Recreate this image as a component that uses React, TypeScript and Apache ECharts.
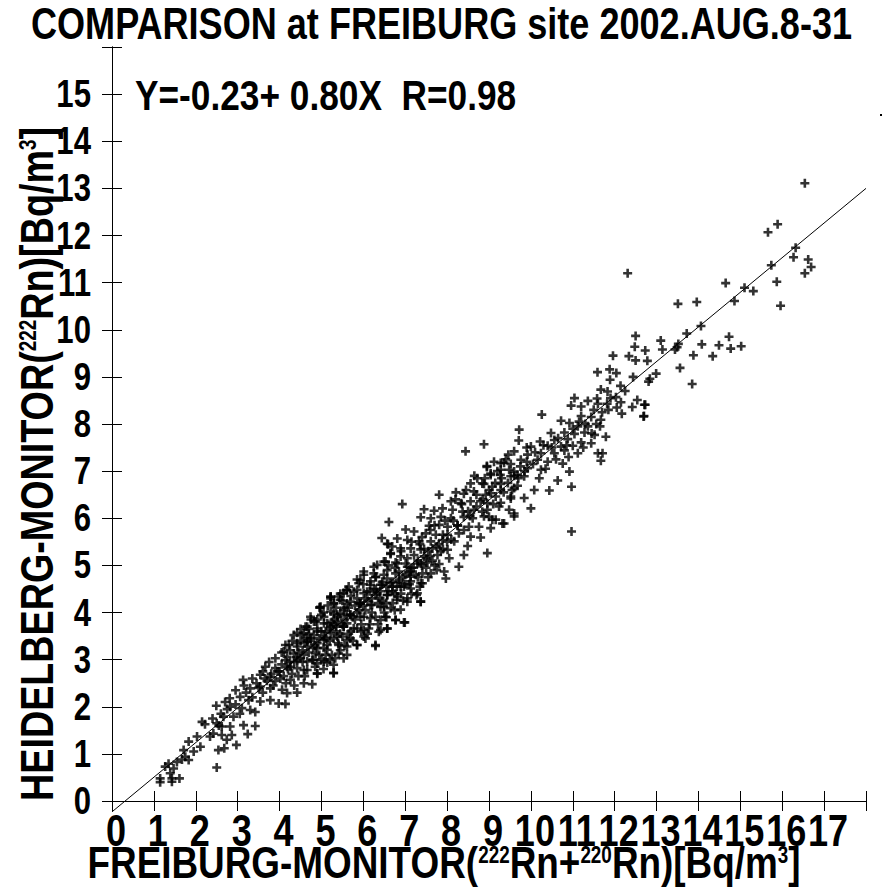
import React, { useEffect, useRef } from "react";
import * as echarts from "echarts";

const titleText = "COMPARISON at FREIBURG site 2002.AUG.8-31";
const equationText = "Y=-0.23+ 0.80X  R=0.98";

const xTicks = { min: 0, max: 18, interval: 1 };
const yTicks = { min: 0, max: 16, interval: 1 };
const xTickLabels = ["0", "1", "2", "3", "4", "5", "6", "7", "8", "9", "10", "11", "12", "13", "14", "15", "16", "17"];
const yTickLabels = ["0", "1", "2", "3", "4", "5", "6", "7", "8", "9", "10", "11", "12", "13", "14", "15"];

// regression line as drawn: from x=0 to x=18
const fitLine: [number, number][] = [
  [0, -0.23],
  [18, 13.0],
];

// [FREIBURG, HEIDELBERG] pairs, Bq/m3
const lowRange: [number, number][] = [
  [1.15, 0.48], [1.43, 0.48], [1.61, 0.48], [1.15, 0.4], [1.43, 0.41], [1.39, 0.59], [1.27, 0.73], [1.35, 0.79],
  [1.47, 0.69], [1.55, 0.83], [1.67, 0.88], [1.75, 0.94], [1.83, 0.87], [2.5, 0.71], [1.71, 1.08], [1.95, 1.05],
  [2.11, 1.15], [1.83, 1.26], [2.03, 1.37], [2.34, 1.37], [2.54, 1.08], [2.68, 1.12], [2.42, 1.43], [2.62, 1.4],
  [2.86, 1.4], [3.24, 1.42], [2.74, 1.3], [2.97, 1.19], [2.15, 1.68], [2.22, 1.63], [2.5, 1.65], [2.62, 1.58],
  [2.82, 1.58], [3.14, 1.61], [3.42, 1.59], [2.66, 1.79], [2.9, 1.79], [2.49, 2.02], [2.82, 2.0], [3.1, 1.97],
  [3.3, 1.93], [3.42, 1.89], [2.81, 2.18], [3.06, 2.21], [3.26, 2.14], [3.54, 2.11], [3.78, 2.14], [3.98, 2.07],
  [4.14, 2.06], [3.3, 2.39], [3.54, 2.43], [3.78, 2.39], [4.06, 2.36], [4.18, 2.29], [4.42, 2.3], [3.13, 2.57],
  [3.54, 2.68], [3.78, 2.64], [4.02, 2.6], [4.26, 2.57], [4.58, 2.5], [4.78, 2.48], [3.66, 2.85], [3.9, 2.82],
  [4.18, 2.85], [4.42, 2.82], [4.66, 2.78], [3.9, 3.03], [4.14, 2.99], [4.42, 2.99], [4.66, 2.96], [4.9, 2.92],
  [5.14, 2.94], [5.29, 2.71], [4.9, 2.7], [4.1, 3.17], [4.34, 3.13], [4.58, 3.1], [4.86, 3.13], [5.1, 3.1],
  [5.33, 3.03], [5.61, 3.1], [4.22, 3.31], [4.42, 3.35], [4.66, 3.38], [4.9, 3.35], [5.14, 3.31], [5.41, 3.31],
  [5.61, 3.28], [4.42, 3.57], [4.54, 3.52], [4.9, 3.6], [5.22, 3.56], [5.5, 3.49], [4.66, 3.7], [4.86, 3.81],
  [5.14, 3.77], [5.38, 3.8], [5.61, 3.77], [4.96, 4.1], [5.29, 3.98], [5.53, 4.05], [5.22, 4.33], [5.41, 4.34],
  [5.6, 4.47],
];

const coreRange: [number, number][] = [
  [6.57, 5.46], [6.65, 5.26], [6.89, 5.19], [6.33, 5.01], [6.53, 5.08], [6.81, 5.04], [7.05, 4.97], [7.37, 5.04],
  [6.01, 4.87], [6.25, 4.83], [6.49, 4.8], [6.77, 4.83], [7.13, 4.76], [7.37, 4.62], [5.93, 4.69], [6.17, 4.66],
  [6.41, 4.59], [6.65, 4.62], [6.89, 4.55], [7.13, 4.51], [5.61, 4.48], [5.85, 4.48], [6.09, 4.44], [6.33, 4.41],
  [6.57, 4.37], [6.81, 4.34], [7.05, 4.3], [7.29, 4.41], [7.37, 4.23], [5.22, 4.3], [5.45, 4.27], [5.69, 4.23],
  [5.93, 4.19], [6.17, 4.16], [6.41, 4.12], [6.65, 4.09], [6.89, 4.06], [4.96, 4.11], [5.22, 4.02], [5.45, 3.98],
  [5.69, 3.95], [5.93, 3.91], [6.17, 3.88], [6.41, 3.84], [6.77, 3.84], [6.99, 3.79], [6.57, 3.66], [4.82, 3.81],
  [5.06, 3.77], [5.29, 3.74], [5.53, 3.7], [5.77, 3.66], [6.01, 3.63], [6.37, 3.59], [4.34, 3.52], [4.58, 3.56],
  [4.82, 3.52], [5.06, 3.49], [5.29, 3.45], [5.61, 3.42], [5.85, 3.31], [6.05, 3.45], [6.29, 3.31], [4.14, 3.31],
  [4.42, 3.28], [4.66, 3.28], [4.9, 3.24], [5.14, 3.21], [5.41, 3.13], [5.53, 3.03], [4.18, 3.06], [4.5, 3.03],
  [4.78, 2.99], [5.06, 2.96], [5.29, 2.89], [4.26, 2.85], [4.58, 2.78], [4.9, 2.71], [5.29, 2.72],
];

const denseCore: [number, number][] = [
  [3.5, 2.4], [3.65, 2.6], [3.8, 2.7], [3.9, 2.55], [4.0, 2.75], [4.1, 2.65], [4.2, 2.8], [4.35, 2.95],
  [4.4, 3.05], [4.55, 3.2], [4.6, 3.35], [4.75, 3.4], [4.8, 3.25], [4.95, 3.45], [5.0, 3.6], [5.1, 3.45],
  [5.2, 3.65], [5.25, 3.8], [5.35, 3.7], [5.4, 3.9], [5.5, 3.75], [5.6, 3.95], [5.65, 4.1], [5.75, 3.9],
  [5.85, 4.0], [5.9, 4.2], [6.0, 4.15], [6.05, 4.3], [6.15, 4.45], [6.2, 4.3], [6.3, 4.5], [6.4, 4.45],
  [6.45, 4.25], [6.55, 4.2], [6.6, 4.45], [6.7, 4.65], [6.75, 4.4], [6.8, 4.55], [6.95, 4.75], [7.0, 4.6],
  [7.1, 4.85], [7.2, 4.95], [7.3, 4.75], [7.4, 5.0], [7.5, 5.15], [7.55, 5.3], [7.65, 5.1], [7.8, 5.45],
  [7.9, 5.35], [8.0, 5.5], [4.05, 3.15], [4.25, 3.2], [4.5, 3.4], [4.7, 3.65], [4.9, 3.85], [5.05, 4.0],
  [5.3, 4.2], [5.45, 4.4], [5.65, 4.55], [5.85, 4.7], [4.15, 2.5], [4.35, 2.45], [4.6, 2.65], [4.85, 2.85],
  [5.05, 2.8], [5.2, 3.0], [5.4, 3.35], [5.55, 3.3], [5.75, 3.4], [5.95, 3.6], [6.1, 3.55], [6.35, 3.75],
  [6.55, 3.9], [6.75, 4.05], [6.95, 4.25], [7.15, 4.4], [7.35, 4.55], [7.55, 4.75], [7.75, 4.9],
];

const midRange: [number, number][] = [
  [8.44, 7.42], [9.46, 7.35], [8.95, 7.11], [9.28, 7.17], [9.52, 7.15], [9.04, 6.95], [9.27, 6.92], [9.48, 7.03],
  [9.68, 6.92], [8.72, 6.85], [8.84, 6.74], [8.56, 6.74], [9.08, 6.67], [9.28, 6.6], [9.6, 6.64], [7.81, 6.5],
  [8.21, 6.55], [8.4, 6.52], [8.64, 6.57], [8.92, 6.5], [9.16, 6.46], [9.52, 6.42], [6.93, 6.3], [8.09, 6.36],
  [8.33, 6.32], [8.56, 6.36], [8.8, 6.36], [8.96, 6.32], [9.24, 6.25], [9.48, 6.18], [9.6, 6.04], [7.45, 6.19],
  [7.69, 6.16], [7.89, 6.21], [8.13, 6.18], [8.37, 6.14], [8.64, 6.18], [8.84, 6.14], [7.37, 6.02], [7.61, 6.0],
  [7.85, 6.03], [8.09, 6.0], [8.4, 6.03], [8.61, 6.0], [9.0, 6.03], [9.16, 5.97], [9.36, 5.89], [6.61, 5.92],
  [7.57, 5.84], [7.81, 5.86], [8.01, 5.82], [8.25, 5.84], [8.52, 5.82], [8.76, 5.82], [7.01, 5.76], [7.21, 5.72],
  [7.49, 5.68], [7.73, 5.65], [8.01, 5.65], [8.28, 5.68], [8.56, 5.61], [8.8, 5.59], [6.44, 5.58], [6.59, 5.45],
  [6.81, 5.57], [7.05, 5.54], [7.33, 5.51], [7.61, 5.51], [7.89, 5.54], [8.17, 5.51], [8.49, 5.41], [6.69, 5.4],
  [6.89, 5.36], [7.13, 5.36], [7.37, 5.34], [7.65, 5.36], [8.01, 5.33], [8.4, 5.22], [8.96, 5.26], [6.65, 5.24],
  [7.21, 5.22], [7.45, 5.19], [7.77, 5.22], [8.05, 5.15], [6.49, 5.08], [6.77, 5.06], [7.01, 5.04], [7.29, 5.04],
  [7.53, 5.06], [7.81, 5.03], [8.28, 4.97], [6.25, 4.97], [6.57, 4.9], [6.85, 4.87], [7.13, 4.87], [7.41, 4.83],
  [7.61, 4.83], [7.93, 4.87], [7.97, 4.72], [6.01, 4.8], [6.29, 4.76], [6.57, 4.72], [6.85, 4.7], [7.13, 4.66],
  [7.41, 4.62], [5.89, 4.62], [6.17, 4.59], [6.45, 4.59], [6.69, 4.55], [6.97, 4.55], [7.27, 4.37], [7.37, 4.23],
  [5.22, 4.34], [5.53, 4.41], [5.77, 4.44], [6.01, 4.41], [6.29, 4.37], [6.57, 4.37], [6.81, 4.27], [7.05, 4.23],
  [4.98, 4.12], [5.29, 4.19], [5.61, 4.19], [5.93, 4.19], [6.21, 4.16], [6.49, 4.12], [6.77, 3.84], [6.97, 3.79],
  [4.74, 3.91], [5.06, 3.91], [5.38, 3.95], [5.69, 3.95], [6.01, 3.91], [6.29, 3.91], [6.53, 3.91], [4.62, 3.7],
  [4.9, 3.66], [5.22, 3.7], [5.53, 3.7], [5.85, 3.66], [6.13, 3.66], [6.41, 3.63], [6.57, 3.66], [4.74, 3.45],
  [5.06, 3.42], [5.38, 3.49], [5.69, 3.45], [6.01, 3.49], [5.85, 3.31], [6.29, 3.29],
];

const denseBand: [number, number][] = [
  [2.6, 1.85], [2.75, 1.95], [2.95, 2.05], [3.05, 1.85], [3.2, 2.3], [3.35, 2.2], [3.45, 2.5], [3.6, 2.3],
  [3.7, 2.55], [3.85, 2.45], [3.95, 2.75], [4.05, 2.9], [3.75, 2.95], [3.6, 2.75], [3.35, 2.6], [3.15, 2.45],
  [2.95, 2.35], [2.7, 2.1], [2.55, 1.6], [2.4, 1.75],
  [4.3, 2.7], [4.45, 2.65], [4.55, 2.95], [4.7, 3.15], [4.8, 3.0], [4.95, 3.1], [5.05, 3.25], [5.2, 3.4],
  [5.35, 3.6], [5.45, 3.55], [5.55, 3.85], [5.7, 3.6], [5.8, 3.85], [5.9, 4.05], [6.05, 4.05], [4.3, 3.4],
  [4.5, 3.65], [4.7, 3.55], [4.75, 3.85], [5.0, 3.95], [5.15, 4.15], [5.35, 4.1], [5.5, 4.25], [5.7, 4.35],
  [5.85, 4.3], [6.0, 4.6], [4.25, 2.95], [4.45, 3.15], [4.65, 3.45], [5.0, 3.0], [5.25, 3.1], [5.45, 3.2],
  [5.65, 3.55], [5.95, 3.75], [6.15, 3.75], [4.85, 3.3], [5.1, 3.6], [5.3, 3.85], [5.55, 4.1], [5.8, 4.15],
  [6.1, 4.25], [6.25, 4.5], [6.4, 4.3], [6.55, 4.55], [6.7, 4.45], [6.85, 4.65], [7.0, 4.8], [7.15, 4.95],
  [7.3, 5.1], [7.45, 5.35], [7.6, 5.2], [7.75, 5.4], [7.9, 5.65], [6.2, 4.0], [6.35, 4.2], [6.5, 4.0],
  [6.7, 4.2], [6.9, 4.4], [7.1, 4.6], [7.25, 4.8], [7.5, 4.95], [7.7, 5.0], [6.3, 4.75], [6.6, 5.0],
  [6.9, 5.3], [7.15, 5.5], [7.4, 5.6], [7.7, 5.85], [7.95, 5.95], [6.45, 4.65], [6.75, 4.95], [7.05, 5.15],
  [7.35, 5.45], [7.6, 5.75], [7.85, 5.3],
  [8.1, 5.55], [8.25, 5.85], [8.4, 5.75], [8.55, 6.05], [8.7, 6.25], [8.85, 6.4], [9.0, 6.6], [9.15, 6.75],
  [9.3, 6.85], [9.45, 6.75], [9.6, 6.9], [9.75, 7.1], [9.9, 7.2], [8.15, 5.95], [8.35, 6.3], [8.5, 6.15],
  [8.7, 6.5], [8.9, 6.85], [9.1, 6.3], [9.35, 6.55], [9.55, 6.6], [9.7, 6.85], [9.85, 7.0], [10.05, 7.15],
  [8.2, 6.4], [8.45, 6.6], [8.65, 6.9], [9.2, 7.0], [9.4, 7.25], [9.9, 7.5],
  [10.1, 7.4], [10.3, 7.55], [10.5, 7.5], [10.65, 7.7], [10.85, 7.55], [11.0, 7.9], [11.15, 8.05], [11.3, 8.0],
  [11.5, 8.3], [11.7, 8.25], [11.9, 8.55], [10.35, 7.05], [10.6, 7.25], [10.9, 7.3], [11.25, 7.5], [11.45, 7.8],
  [11.65, 7.95], [11.85, 8.3], [12.05, 8.35], [12.25, 8.7],
];

const upperRange: [number, number][] = [
  [8.88, 7.57], [9.72, 7.88], [10.48, 7.81], [10.8, 7.82], [11.04, 7.79], [11.28, 7.82], [11.52, 7.77], [11.79, 7.73],
  [9.71, 7.65], [10.22, 7.63], [10.56, 7.66], [10.88, 7.68], [11.2, 7.61], [11.44, 7.59], [10.0, 7.52], [10.4, 7.54],
  [10.72, 7.52], [11.0, 7.54], [11.12, 7.38], [11.6, 7.38], [11.71, 7.38], [11.67, 7.22], [9.6, 7.42], [9.92, 7.35],
  [10.24, 7.38], [10.56, 7.38], [10.8, 7.44], [9.12, 7.2], [9.36, 7.18], [9.76, 7.24], [10.16, 7.24], [10.4, 7.2],
  [10.76, 7.16], [8.95, 7.09], [9.28, 7.03], [9.6, 6.99], [9.92, 7.06], [10.24, 7.03], [10.92, 6.99], [9.04, 6.92],
  [9.52, 6.89], [9.84, 6.89], [10.2, 6.85], [10.64, 6.8], [8.88, 6.73], [9.28, 6.73], [9.68, 6.69], [10.08, 6.6],
  [10.44, 6.59], [10.97, 6.67], [9.04, 6.53], [9.52, 6.46], [9.84, 6.43], [9.28, 6.33], [10.0, 6.21], [8.96, 6.18],
  [9.6, 6.1], [9.08, 5.97], [9.32, 5.89], [8.88, 6.04], [9.04, 5.79], [10.97, 5.72],
  [12.5, 9.87], [12.48, 9.64], [11.96, 9.45], [12.34, 9.44], [12.5, 9.35], [11.59, 9.1], [11.88, 9.16], [12.04, 9.08],
  [11.89, 8.94], [12.44, 9.0], [12.14, 8.81], [11.67, 8.73], [11.83, 8.69], [12.03, 8.57], [11.04, 8.55], [11.36, 8.49],
  [11.58, 8.54], [10.96, 8.39], [11.2, 8.37], [11.6, 8.43], [11.82, 8.43], [12.15, 8.46], [12.54, 8.51], [12.73, 8.41],
  [12.42, 8.36], [12.17, 8.22], [12.69, 8.16], [10.26, 8.2], [10.72, 8.07], [10.92, 8.02], [11.2, 8.17], [11.44, 8.15],
  [11.67, 8.09], [11.12, 7.95], [11.36, 7.95], [11.56, 8.0],
];

const topRange: [number, number][] = [
  [16.54, 13.11], [15.89, 12.24], [15.66, 12.07], [16.32, 11.74], [16.27, 11.54], [16.62, 11.49], [16.69, 11.33],
  [16.54, 11.2], [15.74, 11.37], [15.87, 11.02], [15.96, 10.51], [14.65, 10.99], [15.1, 10.89], [15.31, 10.82],
  [14.86, 10.61], [13.51, 10.55], [13.96, 10.59], [14.06, 10.08], [13.72, 9.92], [13.1, 9.77], [13.14, 9.58],
  [12.73, 9.56], [12.78, 9.34], [13.52, 9.7], [13.44, 9.58], [13.49, 9.63], [14.08, 9.69], [13.88, 9.46],
  [14.49, 9.67], [14.34, 9.44], [14.73, 9.85], [14.77, 9.6], [15.02, 9.65], [13.56, 9.19], [13.85, 8.85],
  [12.99, 9.07], [12.84, 8.96], [12.81, 8.9], [12.71, 8.41], [12.7, 8.17], [12.31, 11.2],
];

const FONT = "'Liberation Sans', Arial, Helvetica, sans-serif";
const NARROW = 0.82;
const PLUS = "path://M3.2,0H5.8V3.2H9V5.8H5.8V9H3.2V5.8H0V3.2H3.2Z";

export default function App() {
  const ref = useRef<HTMLDivElement>(null);
  useEffect(() => {
    if (!ref.current) return;
    const chart = echarts.init(ref.current, undefined, { renderer: "svg" });
    const points = [...lowRange, ...coreRange, ...denseCore, ...midRange, ...denseBand, ...upperRange, ...topRange];
    const axisCommon = {
      type: "value" as const,
      axisLine: { show: true, lineStyle: { color: "#000", width: 1 } },
      axisTick: { show: true, inside: true, length: 10, lineStyle: { color: "#000", width: 1 } },
      axisLabel: { show: false },
      splitLine: { show: false },
    };
    chart.setOption({
      animation: false,
      backgroundColor: "#fff",
      grid: { left: 112, top: 47, width: 754, height: 754 },
      xAxis: [
        { ...axisCommon, position: "bottom", ...xTicks },
        { ...axisCommon, position: "top", ...xTicks },
      ],
      yAxis: [
        { ...axisCommon, position: "left", ...yTicks },
        { ...axisCommon, position: "right", ...yTicks },
      ],
      series: [
        {
          type: "scatter",
          data: points,
          symbol: PLUS,
          symbolSize: 9,
          itemStyle: { color: "#000" },
          silent: true,
        },
        {
          type: "line",
          data: fitLine,
          clip: false,
          symbol: "none",
          lineStyle: { color: "#000", width: 1 },
          silent: true,
        },
      ],
    });

    const narrowText = (text: string, x: number, y: number, size: number, align: string) => ({
      type: "text",
      x,
      y,
      scaleX: NARROW,
      style: {
        text,
        fill: "#000",
        font: `bold ${size}px ${FONT}`,
        align,
        verticalAlign: "middle",
      },
    });

    const xLabelEls = xTickLabels.map((t) => {
      const px = chart.convertToPixel({ xAxisIndex: 0 }, Number(t)) as number;
      return narrowText(t, px + 4, 831, 44, "center");
    });
    const yLabelEls = yTickLabels.map((t) => {
      const py = chart.convertToPixel({ yAxisIndex: 0 }, Number(t)) as number;
      return narrowText(t, 91, py, 38, "right");
    });

    const richMain = { fontFamily: FONT, fontWeight: "bold", fontSize: 45, lineHeight: 42, fill: "#000", verticalAlign: "bottom" };
    const richSup = { fontFamily: FONT, fontWeight: "bold", fontSize: 23, lineHeight: 23, fill: "#000", verticalAlign: "top" };

    chart.setOption({
      graphic: [
        narrowText(titleText, 441.5, 24, 44, "center"),
        narrowText(equationText, 135, 95, 43, "left"),
        ...xLabelEls,
        ...yLabelEls,
        {
          type: "text",
          x: 444,
          y: 864,
          scaleX: NARROW,
          style: {
            text: "{a|FREIBURG-MONITOR(}{s|222}{a|Rn+}{s|220}{a|Rn)[Bq/m}{s|3}{a|]}",
            align: "center",
            verticalAlign: "middle",
            rich: { a: richMain, s: richSup },
          },
        },
        {
          type: "text",
          x: 38,
          y: 464,
          rotation: Math.PI / 2,
          scaleX: NARROW,
          style: {
            text: "{a|HEIDELBERG-MONITOR(}{s|222}{a|Rn)[Bq/m}{s|3}{a|]}",
            align: "center",
            verticalAlign: "middle",
            rich: { a: { ...richMain, fontSize: 46, lineHeight: 44 }, s: richSup },
          },
        },
        {
          type: "rect",
          shape: { x: 880, y: 114, width: 2, height: 2 },
          style: { fill: "#000" },
        },
      ],
    });
    return () => chart.dispose();
  }, []);
  return <div ref={ref} style={{ position: "absolute", left: 0, top: 0, width: 883, height: 890 }} />;
}
